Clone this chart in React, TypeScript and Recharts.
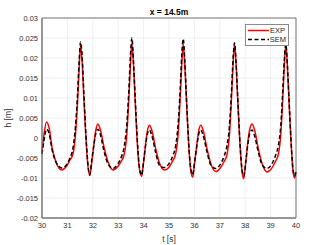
import React from "react";
import {
  LineChart,
  Line,
  XAxis,
  YAxis,
  CartesianGrid,
  ReferenceArea,
  Label,
} from "recharts";

// time samples [s]
const tValues = [
  30.0, 30.08, 30.18, 30.28, 30.4, 30.55, 30.78, 30.95, 31.1, 31.22, 31.32, 31.4, 31.46, 31.52,
  31.58, 31.65, 31.72, 31.8, 31.88, 31.96, 32.05, 32.12, 32.2, 32.3, 32.45, 32.6, 32.8, 32.98,
  33.12, 33.24, 33.34, 33.42, 33.48, 33.54, 33.6, 33.67, 33.74, 33.82, 33.92, 34.0, 34.08, 34.15,
  34.23, 34.33, 34.48, 34.62, 34.82, 35.0, 35.14, 35.26, 35.36, 35.44, 35.5, 35.56, 35.62, 35.69,
  35.76, 35.84, 35.93, 36.01, 36.1, 36.17, 36.25, 36.35, 36.5, 36.65, 36.85, 37.02, 37.16, 37.28,
  37.38, 37.46, 37.52, 37.58, 37.64, 37.71, 37.78, 37.86, 37.94, 38.02, 38.1, 38.18, 38.27, 38.37,
  38.52, 38.67, 38.86, 39.04, 39.18, 39.3, 39.4, 39.48, 39.54, 39.6, 39.66, 39.73, 39.8, 39.87,
  39.94, 40.0,
];

// measured surface elevation [m]
const expValues = [
  -0.0035, 0.001, 0.004, 0.0025, -0.0025, -0.006, -0.008, -0.0072, -0.0055, -0.004, 0.001, 0.009,
  0.017, 0.0232, 0.019, 0.0095, 0.001, -0.0065, -0.0094, -0.006, -0.0012, 0.002, 0.0035, 0.002,
  -0.0025, -0.006, -0.008, -0.0072, -0.0058, -0.004, 0.001, 0.01, 0.018, 0.0236, 0.0185, 0.009,
  0.0, -0.007, -0.0096, -0.006, -0.0015, 0.0018, 0.0032, 0.0018, -0.0028, -0.0062, -0.008, -0.0073,
  -0.0058, -0.004, 0.001, 0.01, 0.018, 0.0235, 0.0185, 0.009, 0.0, -0.0072, -0.0098, -0.0062,
  -0.0015, 0.0018, 0.0032, 0.0018, -0.0028, -0.0065, -0.0084, -0.0075, -0.006, -0.0042, 0.0008,
  0.01, 0.018, 0.0235, 0.0185, 0.009, 0.0, -0.0075, -0.0102, -0.0062, -0.0012, 0.0022, 0.0035,
  0.002, -0.0028, -0.0065, -0.0085, -0.0076, -0.006, -0.0042, 0.0008, 0.01, 0.018, 0.0232, 0.018,
  0.0085, -0.0005, -0.0075, -0.01, -0.0085,
];

// simulated surface elevation [m]
const semValues = [
  -0.004, -0.0005, 0.0022, 0.0012, -0.003, -0.006, -0.0075, -0.0068, -0.005, -0.0025, 0.003, 0.011,
  0.019, 0.024, 0.0205, 0.011, 0.002, -0.006, -0.0092, -0.0055, -0.0015, 0.0012, 0.0022, 0.0008,
  -0.0035, -0.0065, -0.0076, -0.0065, -0.0048, -0.002, 0.0035, 0.012, 0.0205, 0.025, 0.0195, 0.01,
  0.001, -0.0065, -0.0093, -0.0058, -0.0018, 0.001, 0.002, 0.0005, -0.0038, -0.0068, -0.0074,
  -0.0064, -0.0046, -0.002, 0.0035, 0.012, 0.0205, 0.0248, 0.0195, 0.0095, 0.0005, -0.0068,
  -0.0092, -0.0058, -0.0018, 0.001, 0.002, 0.0005, -0.0036, -0.0068, -0.0076, -0.0066, -0.0047,
  -0.002, 0.003, 0.0115, 0.0195, 0.0238, 0.019, 0.0095, 0.0005, -0.007, -0.0095, -0.006, -0.0018,
  0.0012, 0.002, 0.0005, -0.0036, -0.0068, -0.0076, -0.0066, -0.0046, -0.002, 0.003, 0.012, 0.0195,
  0.0235, 0.0185, 0.009, 0.0, -0.007, -0.0095, -0.008,
];

const xTicks = [30, 31, 32, 33, 34, 35, 36, 37, 38, 39, 40];
const yTicks = [-0.02, -0.015, -0.01, -0.005, 0, 0.005, 0.01, 0.015, 0.02, 0.025, 0.03];

const data = tValues.map((t, i) => ({ t, exp: expValues[i], sem: semValues[i] }));

const FONT = "'Liberation Sans', Arial, sans-serif";

const LegendBox = () => (
  <div
    style={{
      position: "absolute",
      left: 245,
      top: 24,
      width: 44,
      height: 22,
      background: "#fff",
      border: "1px solid #8a8a8a",
      fontFamily: FONT,
      fontSize: 7.5,
      color: "#262626",
      boxSizing: "border-box",
      padding: "1px 2px",
      lineHeight: "9px",
    }}
  >
    <div style={{ display: "flex", alignItems: "center" }}>
      <svg width={22} height={9}>
        <line x1={0} y1={4.5} x2={21} y2={4.5} stroke="#ff0000" strokeWidth={1.5} />
      </svg>
      <span>EXP</span>
    </div>
    <div style={{ display: "flex", alignItems: "center" }}>
      <svg width={22} height={9}>
        <line x1={0} y1={4.5} x2={21} y2={4.5} stroke="#000" strokeWidth={1.5} strokeDasharray="4 2.5" />
      </svg>
      <span>SEM</span>
    </div>
  </div>
);

export default function App() {
  return (
    <div style={{ position: "absolute", left: 0, top: 0, width: 327, height: 245, background: "#fff" }}>
      <div
        style={{
          position: "absolute",
          left: 42,
          width: 254,
          top: 7,
          textAlign: "center",
          fontFamily: FONT,
          fontSize: 8.5,
          fontWeight: "bold",
          color: "#000",
        }}
      >
        x = 14.5m
      </div>
      <LineChart
        width={327}
        height={245}
        data={data}
        margin={{ top: 18, right: 31, left: 0, bottom: 0 }}
      >
        <CartesianGrid stroke="#ebebeb" strokeWidth={0.8} />
        <XAxis
          dataKey="t"
          type="number"
          domain={[30, 40]}
          ticks={xTicks}
          height={27}
          interval={0}
          tickLine={false}
          tickSize={0}
          tickMargin={5}
          axisLine={{ stroke: "#777" }}
          tick={{ fontSize: 7.5, fill: "#333", fontFamily: FONT }}
        >
          <Label value="t [s]" position="insideBottom" offset={3} style={{ fontSize: 8.5, fill: "#333", fontFamily: FONT }} />
        </XAxis>
        <YAxis
          type="number"
          domain={[-0.02, 0.03]}
          ticks={yTicks}
          width={42}
          interval={0}
          allowDataOverflow
          tickLine={false}
          tickSize={0}
          tickMargin={4}
          axisLine={{ stroke: "#777" }}
          tickFormatter={(v: number) => String(Number(v.toFixed(3)))}
          tick={{ fontSize: 7.5, fill: "#333", fontFamily: FONT }}
        />
        <ReferenceArea x1={30} x2={40} y1={-0.02} y2={0.03} fill="none" stroke="#777" strokeWidth={1} />
        <Line
          dataKey="exp"
          name="EXP"
          type="monotone"
          stroke="#ff0000"
          strokeWidth={1.5}
          dot={false}
          isAnimationActive={false}
        />
        <Line
          dataKey="sem"
          name="SEM"
          type="monotone"
          stroke="#000"
          strokeWidth={1.5}
          strokeDasharray="4 2.5"
          dot={false}
          isAnimationActive={false}
        />
      </LineChart>
      <div
        style={{
          position: "absolute",
          left: 8,
          top: 118,
          transform: "translate(-50%, -50%) rotate(-90deg)",
          fontFamily: FONT,
          fontSize: 8.5,
          color: "#333",
          whiteSpace: "nowrap",
        }}
      >
        h [m]
      </div>
      <LegendBox />
    </div>
  );
}
